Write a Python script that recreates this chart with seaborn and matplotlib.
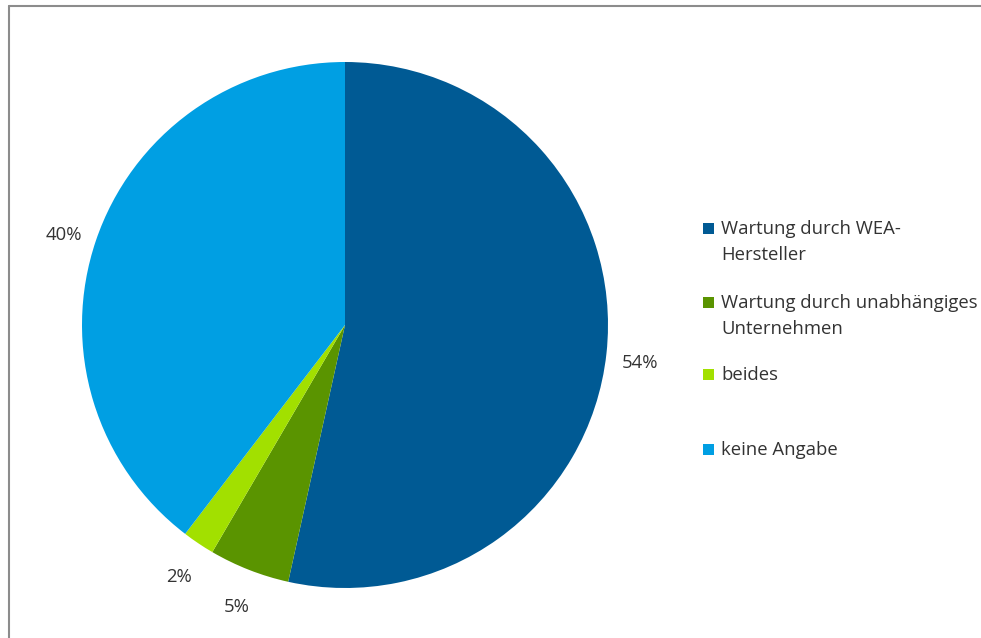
import matplotlib
matplotlib.use("Agg")
import matplotlib.pyplot as plt
import seaborn as sns
from matplotlib.patches import Rectangle
from matplotlib.lines import Line2D

categories = ["Wartung durch WEA-\nHersteller",
              "Wartung durch unabhängiges\nUnternehmen",
              "beides",
              "keine Angabe"]
values = [54, 5, 2, 40]
colors = ["#005A94", "#5A9400", "#A2E000", "#009FE3"]

sns.set_theme(style="white")
plt.rcParams["font.family"] = ["Open Sans", "DejaVu Sans"]
text_color = "#333333"

W, H = 981, 638
fig = plt.figure(figsize=(W / 100, H / 100), dpi=100)
fig.patch.set_facecolor("white")

# pie axes: center (345,325), radius 263 px
cx, cy, r = 345, 325, 263
ax = fig.add_axes([(cx - r) / W, (H - cy - r) / H, 2 * r / W, 2 * r / H])
lab_iter = iter([f"{v}%" for v in values])
wedges, texts, autotexts = ax.pie(
    values, colors=colors, startangle=90, counterclock=False,
    autopct=lambda p: next(lab_iter), pctdistance=1.13,
    wedgeprops=dict(linewidth=0),
    textprops=dict(fontsize=13.3, color=text_color),
)
for t in autotexts:
    x, y = t.get_position()
    t.set_position((x, y - 0.02))
ax.set_xlim(-1, 1)
ax.set_ylim(-1, 1)
ax.axis("off")

# legend (manual, Excel style)
first_baselines = [234, 308, 380, 455]
line_gap = 26
for lab, col, yb in zip(categories, colors, first_baselines):
    sq = 11
    fig.patches.append(Rectangle((703 / W, 1 - yb / H), sq / W, sq / H,
                                 transform=fig.transFigure, facecolor=col,
                                 edgecolor="none"))
    for k, line in enumerate(lab.split("\n")):
        fig.text(721 / W, 1 - (yb + k * line_gap) / H, line, fontsize=13.3,
                 color=text_color, va="baseline", ha="left")

# frame border (top and left)
fig.add_artist(Line2D([9 / W, 1], [1 - 6 / H, 1 - 6 / H], transform=fig.transFigure,
                      color="#8c8c8c", linewidth=1.5))
fig.add_artist(Line2D([9 / W, 9 / W], [0, 1 - 6 / H], transform=fig.transFigure,
                      color="#8c8c8c", linewidth=1.5))

fig.savefig("out.png", dpi=100, facecolor="white")
